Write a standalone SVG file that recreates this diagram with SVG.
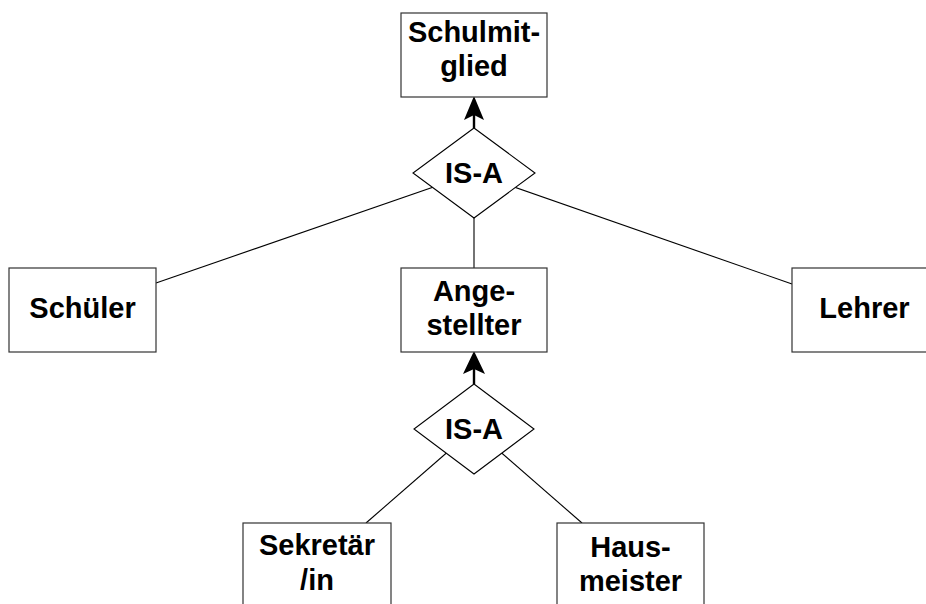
<svg xmlns="http://www.w3.org/2000/svg" width="926" height="604" viewBox="0 0 926 604">
  <style>
    .box { fill: #ffffff; stroke: #333333; stroke-width: 1.2; }
    .dia { fill: #ffffff; stroke: #000000; stroke-width: 1.1; }
    .ln { stroke: #000000; stroke-width: 1.1; fill: none; }
    .arr { stroke: #000000; stroke-width: 2.4; fill: none; }
    .head { fill: #000000; stroke: none; }
    text { font-family: "Liberation Sans", Arial, sans-serif; font-weight: bold; font-size: 29px; fill: #000000; text-anchor: middle; }
  </style>
  <rect width="926" height="604" fill="#ffffff"/>
  <g id="connectors">
    <line class="ln" x1="156" y1="283" x2="474" y2="173"/>
    <line class="ln" x1="792" y1="284" x2="474" y2="173"/>
    <line class="ln" x1="474" y1="173" x2="474" y2="268"/>
    <line class="ln" x1="366" y1="523" x2="474" y2="429"/>
    <line class="ln" x1="582" y1="523" x2="474" y2="429"/>
    <line class="arr" x1="474" y1="128" x2="474" y2="112"/>
    <path class="head" d="M474,96 L484,120 L474,115 L464,120 Z"/>
    <line class="arr" x1="474" y1="384" x2="474" y2="368"/>
    <path class="head" d="M474,351 L485,374 L474,369 L463,374 Z"/>
  </g>
  <g id="schulmitglied">
    <rect class="box" x="401" y="13" width="146" height="84"/>
    <text x="474" y="42">Schulmit-</text>
    <text x="474" y="76">glied</text>
  </g>
  <g id="isa1">
    <polygon class="dia" points="474,128 535,173 474,218 413,173"/>
    <text x="474" y="183">IS-A</text>
  </g>
  <g id="schueler">
    <rect class="box" x="9" y="268" width="147" height="84"/>
    <text x="82.5" y="318">Schüler</text>
  </g>
  <g id="angestellter">
    <rect class="box" x="401" y="268" width="146" height="84"/>
    <text x="474" y="301">Ange-</text>
    <text x="474" y="335">stellter</text>
  </g>
  <g id="lehrer">
    <rect class="box" x="792" y="268" width="147" height="84"/>
    <text x="864.5" y="318">Lehrer</text>
  </g>
  <g id="isa2">
    <polygon class="dia" points="474,384 534,429 474,474 414,429"/>
    <text x="474" y="439">IS-A</text>
  </g>
  <g id="sekretaerin">
    <rect class="box" x="243" y="523" width="148" height="100"/>
    <text x="317" y="555">Sekretär</text>
    <text x="317" y="590">/in</text>
  </g>
  <g id="hausmeister">
    <rect class="box" x="557" y="523" width="147" height="100"/>
    <text x="630.5" y="557">Haus-</text>
    <text x="630.5" y="591">meister</text>
  </g>
</svg>
